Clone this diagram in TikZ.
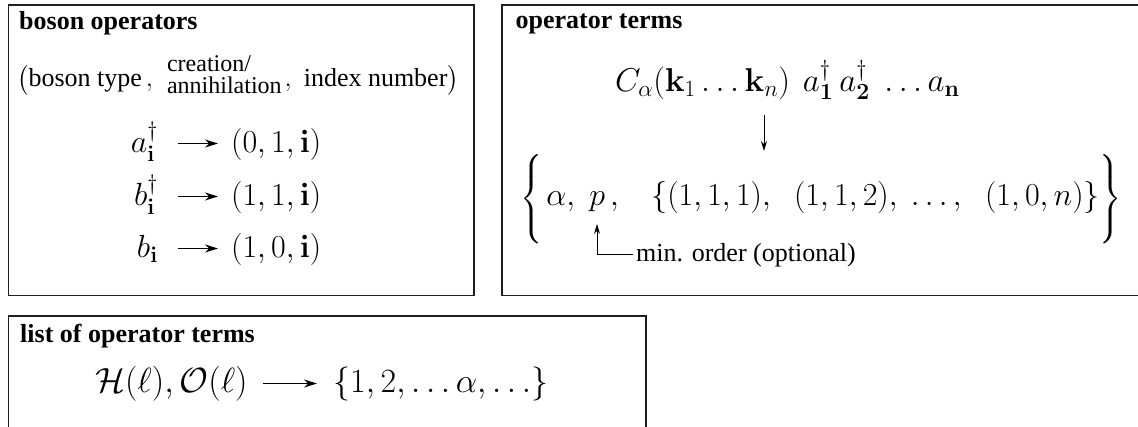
\documentclass[tikz,border=0pt]{standalone}
\usepackage{fix-cm}
\usepackage{amsmath}
\usepackage[no-math]{fontspec}
\newfontfamily\tms{Liberation Serif}
\usetikzlibrary{arrows.meta}
\newcommand\ttlfont{\tms\bfseries\fontsize{26}{30}\selectfont}
\newcommand\bigbr[1]{\mbox{\fontsize{28}{28}\selectfont$\Bigg#1$}}
\begin{document}
\begin{tikzpicture}[x=1pt,y=-1pt,
  frame/.style={draw=black!88,line width=1.7pt,inner sep=0pt,outer sep=0pt,anchor=north west},
  ttl/.style={anchor=base west,inner sep=0pt,font=\ttlfont},
  mth/.style={inner sep=0pt,font=\fontsize{32}{38}\selectfont},
  marr/.style={line width=1.3pt,-{Stealth[length=13pt,width=8pt]}},
  darr/.style={line width=1pt,-{Stealth[length=10pt,width=6pt]}},
  ]
\useasboundingbox (0,0) rectangle (1138,427);
\clip (0,0) rectangle (1138,427);
% frames
\node[frame,minimum width=465.5pt,minimum height=290.5pt] (b1) at (8.5,5) {};
\node[frame,minimum width=637pt,minimum height=290.5pt] (b2) at (502,5) {};
\node[frame,minimum width=637.5pt,minimum height=140pt] (b3) at (8.5,316) {};
% titles
\node[ttl] (t1) at (19,29.5) {boson operators};
\node[ttl] (t2) at (515.5,28.5) {operator terms};
\node[ttl] (t3) at (20,343) {list of operator terms};
% box 1 header
\node[anchor=base west,inner sep=0pt] (hdr) at (17,87) {\tms\fontsize{26}{30}\selectfont
  $\bigl($boson type\kern4pt$,$\kern14pt\raisebox{-7pt}{\fontsize{24}{21}\selectfont\begin{tabular}[b]{@{}l@{}}creation/\\annihilation\end{tabular}}\kern3pt$,$\kern12pt index number$\bigr)$};
% box 1 rows
\node[mth,anchor=base east] (opA) at (158,153) {$a^\dagger_{\mathbf{i}}$};
\node[mth,anchor=base west] (tpA) at (231,153) {$(0,1,\mathbf{i})$};
\node[mth,anchor=base east] (opB) at (158,206) {$b^\dagger_{\mathbf{i}}$};
\node[mth,anchor=base west] (tpB) at (231,206) {$(1,1,\mathbf{i})$};
\node[mth,anchor=base east] (opC) at (158,258) {$b_{\mathbf{i}}$};
\node[mth,anchor=base west] (tpC) at (231,258) {$(1,0,\mathbf{i})$};
\draw[marr] ([shift={(20,-9.5)}]opA.base east) -- ([shift={(-13,-9.5)}]tpA.base west);
\draw[marr] ([shift={(20,-9.5)}]opB.base east) -- ([shift={(-13,-9.5)}]tpB.base west);
\draw[marr] ([shift={(20,-9.5)}]opC.base east) -- ([shift={(-13,-9.5)}]tpC.base west);
% box 2
\node[inner sep=0pt,font=\fontsize{33}{38}\selectfont,anchor=base west] (ct) at (615,92) {$C_\alpha(\mathbf{k}_1\ldots\mathbf{k}_n)\kern13pt a^\dagger_{\mathbf{1}}\kern6pt a^\dagger_{\mathbf{2}}\kern9pt\ldots a_{\mathbf{n}}$};
\node[mth,anchor=base west] (set) at (520,206) {$\bigbr\{\kern4pt\alpha,\kern9pt p\kern5pt,\kern27pt \{(1,1,1),\kern18pt(1,1,2),\kern8pt\ldots,\kern18pt(1,0,n)\}\kern0pt\bigbr\}$};
\coordinate (d1) at (764,115);
\coordinate (d2) at (764,151);
\draw[darr] (d1) -- (d2);
\node[anchor=base west,inner sep=0pt,font=\tms\fontsize{26}{30}\selectfont] (mo) at (636,262) {min. order (optional)};
\coordinate (ptip) at (597,224);
\draw[darr] ([shift={(-3,-7)}]mo.base west) -| (ptip);
% box 3
\node[inner sep=0pt,font=\fontsize{35}{40}\selectfont,anchor=base west] (ho) at (95,393) {$\mathcal{H}(\ell),\mathcal{O}(\ell)$};
\node[inner sep=0pt,font=\fontsize{34}{40}\selectfont,anchor=base west] (ls) at (333,393) {$\{1,2,\ldots\alpha,\ldots\}$};
\draw[marr] ([shift={(15,-9.5)}]ho.base east) -- ([shift={(-16,-9.5)}]ls.base west);
\end{tikzpicture}
\end{document}
